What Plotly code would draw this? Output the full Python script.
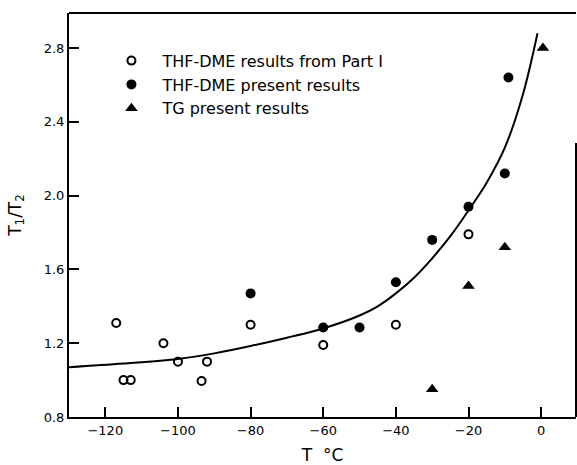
import plotly.graph_objects as go

# Data
part1_T = [-117, -115, -113, -104, -100, -93.5, -92, -80, -60, -40, -20]
part1_R = [1.31, 1.00, 1.00, 1.20, 1.10, 0.995, 1.10, 1.30, 1.19, 1.30, 1.79]

present_T = [-80, -60, -50, -40, -30, -20, -10, -9]
present_R = [1.47, 1.285, 1.285, 1.53, 1.76, 1.94, 2.12, 2.64]

tg_T = [-30, -20, -10, 0.5]
tg_R = [0.95, 1.51, 1.72, 2.80]

curve_T = [-130, -115, -100, -90, -80, -70, -60, -50, -45, -40, -35, -30, -25, -20, -15, -10, -5, -1]
curve_R = [1.07, 1.09, 1.115, 1.145, 1.185, 1.23, 1.28, 1.35, 1.40, 1.47, 1.555, 1.66, 1.78, 1.92, 2.07, 2.26, 2.55, 2.88]

x_ticks = [-120, -100, -80, -60, -40, -20, 0]
y_ticks = [0.8, 1.2, 1.6, 2.0, 2.4, 2.8]

FONT = "DejaVu Sans"

fig = go.Figure()
fig.add_trace(go.Scatter(x=curve_T, y=curve_R, mode="lines",
                         line=dict(color="black", width=2, shape="spline", smoothing=1.0),
                         showlegend=False, hoverinfo="skip"))
fig.add_trace(go.Scatter(x=part1_T, y=part1_R, mode="markers",
                         name="THF-DME results from Part I",
                         marker=dict(symbol="circle-open", size=8, color="black", line=dict(width=2))))
fig.add_trace(go.Scatter(x=present_T, y=present_R, mode="markers",
                         name="THF-DME present results",
                         marker=dict(symbol="circle", size=10, color="black")))
fig.add_trace(go.Scatter(x=tg_T, y=tg_R, mode="markers",
                         name="TG present results",
                         marker=dict(symbol="triangle-up", size=11, color="black")))

fig.update_layout(
    width=577, height=465,
    margin=dict(l=69, r=1, t=13, b=48),
    paper_bgcolor="white", plot_bgcolor="white",
    font=dict(family=FONT, color="black", size=13),
    legend=dict(x=0.062, y=0.924, xanchor="left", yanchor="top",
                font=dict(family=FONT, size=16, color="black"),
                itemwidth=52,
                bgcolor="rgba(0,0,0,0)", tracegroupgap=0),
    xaxis=dict(range=[-130, 9.6], tickvals=x_ticks, ticks="inside", ticklen=10,
               tickwidth=2, tickcolor="black", showline=True, linewidth=2,
               linecolor="black", showgrid=False, zeroline=False,
               title=dict(text="T  °C", font=dict(size=17), standoff=16)),
    yaxis=dict(range=[0.8, 2.99], tickvals=y_ticks, tickformat=".1f", ticks="inside",
               ticklen=10, tickwidth=2, tickcolor="black", showline=True, linewidth=2,
               linecolor="black", showgrid=False, zeroline=False,
               title=dict(text="T<sub>1</sub>/T<sub>2</sub>", font=dict(size=17), standoff=18)),
    shapes=[
        dict(type="line", xref="paper", yref="paper", x0=0, x1=1, y0=1, y1=1,
             line=dict(color="black", width=2)),
        dict(type="line", xref="paper", yref="paper", x0=1, x1=1, y0=0, y1=0.678,
             line=dict(color="black", width=2)),
    ],
)

fig.write_html("out.html")
